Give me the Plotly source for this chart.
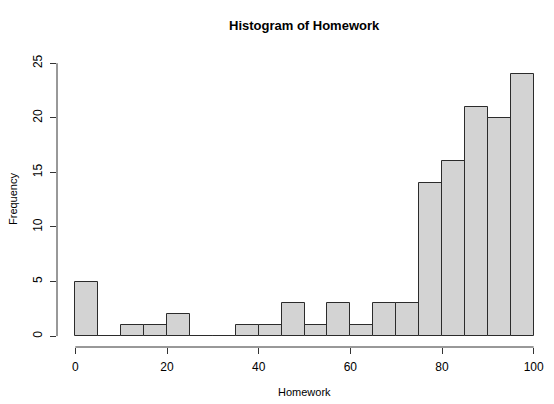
import plotly.graph_objects as go

bin_starts = [0, 5, 10, 15, 20, 25, 30, 35, 40, 45, 50, 55, 60, 65, 70, 75, 80, 85, 90, 95]
counts = [5, 0, 1, 1, 2, 0, 0, 1, 1, 3, 1, 3, 1, 3, 3, 14, 16, 21, 20, 24]
x_ticks = [0, 20, 40, 60, 80, 100]
y_ticks = [0, 5, 10, 15, 20, 25]

bin_width = 5
font = "Liberation Sans, Arial, sans-serif"

fig = go.Figure()
fig.add_trace(go.Bar(
    x=bin_starts, y=counts, width=[bin_width] * len(counts), offset=0,
    marker=dict(color="#D3D3D3", line=dict(color="#2b2b2b", width=1)),
    hoverinfo="x+y",
))

fig.update_layout(
    width=554, height=404,
    margin=dict(l=57, r=2, t=63, b=57),
    plot_bgcolor="white", paper_bgcolor="white",
    showlegend=False,
    bargap=0,
    font=dict(family=font, size=11, color="#000"),
    xaxis=dict(range=[-4, 104], tickvals=x_ticks, showgrid=False, zeroline=False,
               showline=False, ticks="outside", ticklen=6, tickcolor="#333",
               tickfont=dict(size=12), ticklabelstandoff=3),
    yaxis=dict(range=[-1.0, 25.02], tickvals=y_ticks, showgrid=False, zeroline=False,
               showline=False, ticks="outside", ticklen=6, tickcolor="#333",
               tickangle=-90, tickfont=dict(size=12), ticklabelstandoff=3),
    shapes=[
        dict(type="line", xref="x", yref="paper", x0=0, x1=100, y0=0, y1=0,
             line=dict(color="#333", width=1)),
        dict(type="line", xref="paper", yref="y", x0=0, x1=0, y0=0, y1=25,
             line=dict(color="#333", width=1)),
    ],
    annotations=[
        dict(text="<b>Histogram of Homework</b>", xref="paper", yref="paper",
             x=0.5, y=1, yshift=38, showarrow=False, font=dict(size=13),
             xanchor="center", yanchor="middle"),
        dict(text="Homework", xref="paper", yref="paper", x=0.5, y=0, yshift=-45,
             showarrow=False, font=dict(size=11), xanchor="center", yanchor="middle"),
        dict(text="Frequency", xref="paper", yref="paper", x=0, xshift=-44, y=0.5,
             yshift=6, textangle=-90, showarrow=False, font=dict(size=11),
             xanchor="center", yanchor="middle"),
    ],
)

fig.write_html("out.html", config={"displayModeBar": False},
               post_script="document.body.style.margin='0';")
